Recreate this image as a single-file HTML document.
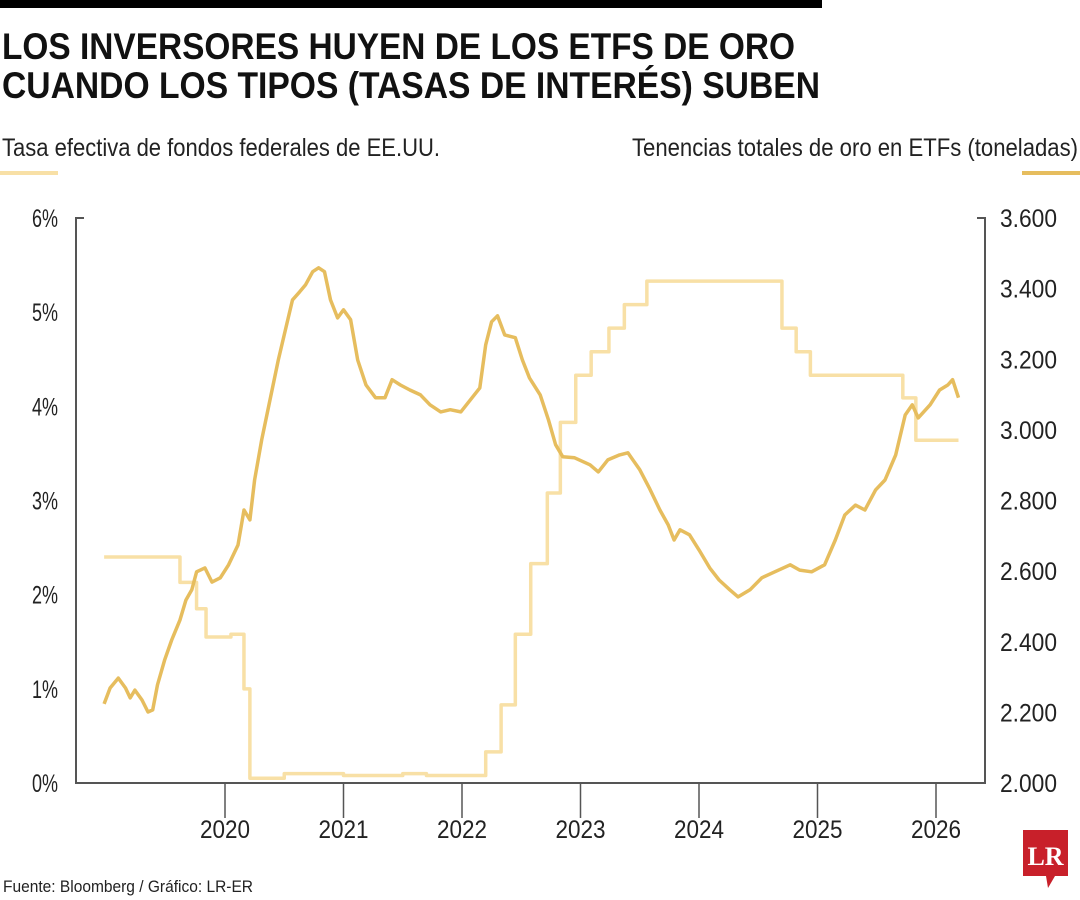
<!DOCTYPE html>
<html><head><meta charset="utf-8"><style>
html,body{margin:0;padding:0;background:#fff;}
svg{display:block;font-family:"Liberation Sans",sans-serif;}
</style></head><body>
<svg id="chart" width="1080" height="900" viewBox="0 0 1080 900">
<rect x="0" y="0" width="822" height="8" fill="#000"/>
<text x="2" y="59" font-size="37" font-weight="bold" textLength="793" lengthAdjust="spacingAndGlyphs" fill="#111">LOS INVERSORES HUYEN DE LOS ETFS DE ORO</text>
<text x="2" y="98" font-size="37" font-weight="bold" textLength="818" lengthAdjust="spacingAndGlyphs" fill="#111">CUANDO LOS TIPOS (TASAS DE INTERÉS) SUBEN</text>
<text x="2" y="156" font-size="25" textLength="438" lengthAdjust="spacingAndGlyphs" fill="#222">Tasa efectiva de fondos federales de EE.UU.</text>
<text x="632" y="156" font-size="25" textLength="446" lengthAdjust="spacingAndGlyphs" fill="#222">Tenencias totales de oro en ETFs (toneladas)</text>
<rect x="0" y="171" width="58" height="4" fill="#f8e0a6"/>
<rect x="1022" y="171" width="58" height="4" fill="#e6bd5e"/>
<g id="axes" stroke="#555" stroke-width="2" fill="none">
<path d="M84 218 H76 V783 H985 V218 H977"/>
</g>
<g id="xt"></g><g id="yl"></g><g id="yr"></g>
<g id="series"></g>
<text x="3" y="892" font-size="17" textLength="250" lengthAdjust="spacingAndGlyphs" fill="#222">Fuente: Bloomberg / Gráfico: LR-ER</text>
<g>
<path d="M1023 830 H1068 V876 H1055 L1048 888 L1046 876 H1023 Z" fill="#c8202a"/>
<text x="1045.5" y="865" font-size="26" font-weight="bold" font-family="Liberation Serif,serif" fill="#fff" text-anchor="middle">LR</text>
</g>
</svg>
<script>
const years=[2020,2021,2022,2023,2024,2025,2026];
const leftTicks=[0,1,2,3,4,5,6];
const leftLabels=["0%","1%","2%","3%","4%","5%","6%"];
const rightTicks=[2000,2200,2400,2600,2800,3000,3200,3400,3600];
const rightLabels=["2.000","2.200","2.400","2.600","2.800","3.000","3.200","3.400","3.600"];
const fedDates=[2018.98,2019.62,2019.76,2019.84,2020.05,2020.16,2020.21,2020.5,2021.0,2021.5,2021.7,2022.20,2022.33,2022.45,2022.58,2022.72,2022.83,2022.96,2023.09,2023.24,2023.37,2023.56,2024.70,2024.82,2024.94,2025.72,2025.83,2026.19];
const fedRates=[2.40,2.13,1.85,1.55,1.58,1.00,0.05,0.10,0.08,0.10,0.08,0.33,0.83,1.58,2.33,3.08,3.83,4.33,4.58,4.83,5.08,5.33,4.83,4.58,4.33,4.09,3.64,3.64];
const goldDates=[2018.98,2019.03,2019.10,2019.16,2019.20,2019.24,2019.30,2019.35,2019.39,2019.43,2019.49,2019.55,2019.62,2019.67,2019.72,2019.76,2019.83,2019.89,2019.96,2020.03,2020.11,2020.16,2020.21,2020.25,2020.31,2020.38,2020.45,2020.51,2020.57,2020.63,2020.68,2020.74,2020.79,2020.84,2020.89,2020.95,2021.00,2021.06,2021.12,2021.19,2021.27,2021.35,2021.41,2021.48,2021.56,2021.65,2021.73,2021.82,2021.90,2021.99,2022.07,2022.15,2022.20,2022.25,2022.30,2022.36,2022.45,2022.51,2022.57,2022.66,2022.73,2022.79,2022.85,2022.95,2023.08,2023.15,2023.23,2023.33,2023.40,2023.50,2023.58,2023.67,2023.74,2023.79,2023.84,2023.92,2024.00,2024.09,2024.17,2024.26,2024.33,2024.43,2024.53,2024.64,2024.77,2024.85,2024.95,2025.06,2025.15,2025.23,2025.32,2025.40,2025.49,2025.57,2025.66,2025.74,2025.80,2025.85,2025.95,2026.03,2026.10,2026.14,2026.19];
const goldTonnes=[2224,2269,2297,2269,2241,2263,2235,2201,2207,2278,2348,2405,2462,2518,2547,2598,2609,2569,2581,2618,2674,2773,2745,2858,2972,3085,3198,3283,3368,3391,3411,3448,3459,3448,3368,3317,3340,3312,3198,3127,3091,3091,3142,3127,3113,3099,3071,3051,3057,3051,3085,3119,3241,3306,3323,3269,3261,3198,3147,3099,3028,2958,2924,2921,2901,2881,2915,2929,2935,2887,2836,2773,2731,2688,2717,2703,2660,2609,2575,2547,2527,2547,2581,2598,2618,2603,2598,2618,2688,2759,2787,2773,2830,2858,2929,3042,3071,3034,3071,3113,3127,3142,3091];
const NS="http://www.w3.org/2000/svg";
const X=t=>225+(t-2020)*118.5;
const YL=v=>783-v*94.17;
const YR=v=>783-(v-2000)*0.353125;
function mk(tag,attrs,parent,txt){const e=document.createElementNS(NS,tag);for(const k in attrs)e.setAttribute(k,attrs[k]);if(txt!==undefined)e.textContent=txt;document.getElementById(parent).appendChild(e);return e;}
years.forEach(y=>{
 const l=mk('line',{x1:X(y),x2:X(y),y1:783,y2:818,stroke:'#555','stroke-width':1.5},'xt');
 
 
 const t=mk('text',{x:X(y),y:838,'font-size':25,'text-anchor':'middle',fill:'#222',textLength:50,lengthAdjust:'spacingAndGlyphs'},'xt',String(y));
 
 
});
leftTicks.forEach((v,i)=>{
 const t=mk('text',{x:58,y:YL(v)+9,'font-size':25,'text-anchor':'end',fill:'#222',textLength:leftLabels[i].length*13,lengthAdjust:'spacingAndGlyphs'},'yl',leftLabels[i]);
 
 
});
rightTicks.forEach((v,i)=>{
 const t=mk('text',{x:1000,y:YR(v)+9,'font-size':25,fill:'#222',textLength:57,lengthAdjust:'spacingAndGlyphs'},'yr',rightLabels[i]);
 
 
});
let d='';
fedDates.forEach((t,i)=>{
 if(i===0)d+='M'+X(t)+' '+YL(fedRates[i]);
 else d+=' H'+X(t)+' V'+YL(fedRates[i]);
});
const fp=mk('path',{d:d,fill:'none',stroke:'#f8e0a6','stroke-width':3.5,'stroke-linejoin':'round'},'series');


let g='';
goldDates.forEach((t,i)=>{g+=(i?' L':'M')+X(t).toFixed(1)+' '+YR(goldTonnes[i]).toFixed(1);});
const gp=mk('path',{d:g,fill:'none',stroke:'#e6bd5e','stroke-width':3.5,'stroke-linejoin':'round'},'series');


</script>
</body></html>
